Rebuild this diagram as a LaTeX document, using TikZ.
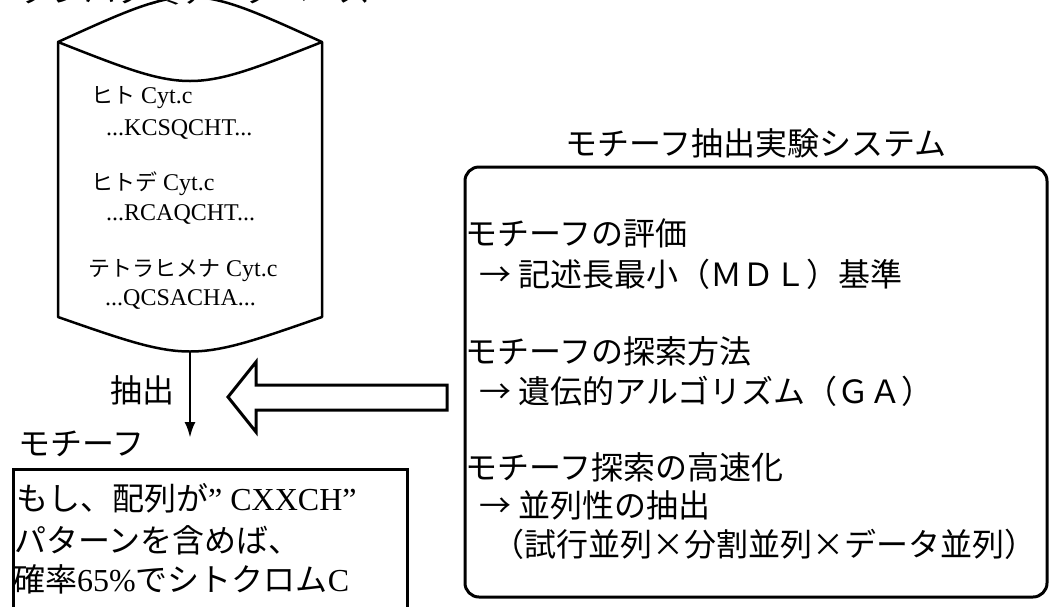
\documentclass[tikz,border=0pt]{standalone}
\usepackage{fontspec}
\setmainfont{Liberation Serif}
\newfontfamily\jp{Noto Sans CJK JP}
\usetikzlibrary{arrows.meta}

\tikzset{
  jptext/.style={anchor=base west, inner sep=0pt, font=\jp\fontsize{32}{38}\selectfont},
  dbtext/.style={anchor=base west, inner sep=0pt, font=\fontsize{24}{28}\selectfont},
  boxline/.style={line width=3pt}
}
\newcommand\dbjp[1]{{\jp\fontsize{22}{26}\selectfont #1}}

\begin{document}
\begin{tikzpicture}[x=1pt,y=-1pt]
\useasboundingbox (0,0) rectangle (1050,606);
\clip (0,0) rectangle (1050,606);

% database cylinder
\node[jptext] (dbtitle) at (20,2) {タンパク質データベース};
\draw[line width=2.5pt, line join=round] (58,42) .. controls (190,-18) .. (322,42)
  -- (322,317) .. controls (190,363) .. (58,317) -- cycle;
\draw[line width=2.5pt] (58,42) .. controls (190,94) .. (322,42);
\node[dbtext] (hito) at (91,103) {\dbjp{ヒト} Cyt.c};
\node[dbtext] (hitoseq) at (106,135) {...KCSQCHT...};
\node[dbtext] (hitode) at (91,190) {\dbjp{ヒトデ} Cyt.c};
\node[dbtext] (hitodeseq) at (106,220) {...RCAQCHT...};
\node[dbtext] (tetra) at (88,276) {\dbjp{テトラヒメナ} Cyt.c};
\node[dbtext] (tetraseq) at (105,305) {...QCSACHA...};
\coordinate (dbbot) at (190,352);
\coordinate (motiftop) at (190,438);

% extraction
\draw[->, >={Latex[length=16pt,width=11pt]}, line width=2.8pt] (dbbot) -- (motiftop);
\node[jptext] (extract) at (110,402) {抽出};
\draw[boxline, line join=miter] (228,397) -- (256,362) -- (256,385) -- (447,385)
  -- (447,410) -- (256,410) -- (256,432) -- cycle;

% motif
\node[jptext] (motiflabel) at (18,455) {モチーフ};
\node[draw, boxline, minimum width=394pt, minimum height=152pt, inner sep=0pt] (motifbox) at (210,545) {};
\node[jptext] (rule1) at (16,510) {もし、配列が{\rmfamily ” CXXCH”}};
\node[jptext] (rule2) at (14,552) {パターンを含めば、};
\node[jptext] (rule3) at (13,591) {確率{\rmfamily 65\%}でシトクロム{\rmfamily C}};

% system
\node[jptext, anchor=base] (systitle) at (756,155) {モチーフ抽出実験システム};
\node[draw, boxline, rounded corners=14pt, minimum width=582pt, minimum height=430pt, inner sep=0pt] (sysbox) at (756,382) {};
\node[jptext] (eval) at (465,245) {モチーフの評価};
\node[jptext] (evalmdl) at (479,286) {→ 記述長最小（ＭＤＬ）基準};
\node[jptext] (search) at (465,363) {モチーフの探索方法};
\node[jptext] (searchga) at (479,403) {→ 遺伝的アルゴリズム（ＧＡ）};
\node[jptext] (speed) at (465,479) {モチーフ探索の高速化};
\node[jptext] (speedpar) at (479,517) {→ 並列性の抽出};
\node[jptext] (speedkind) at (492,556) {（試行並列×分割並列×データ並列）};
\end{tikzpicture}
\end{document}
